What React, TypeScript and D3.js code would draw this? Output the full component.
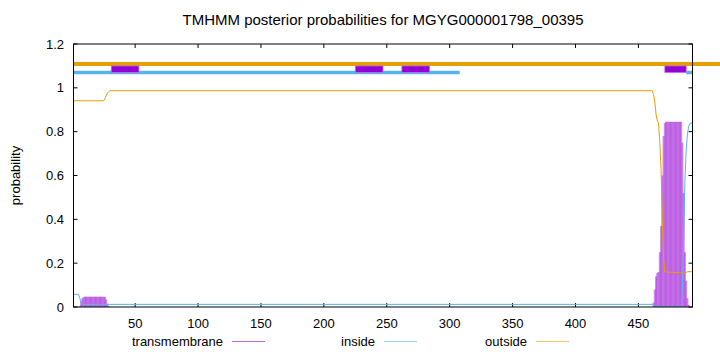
import React from "react";
import * as d3 from "d3";

const title = "TMHMM posterior probabilities for MGYG000001798_00395";
const xTicks = [50, 100, 150, 200, 250, 300, 350, 400, 450];
const yTicks = [0, 0.2, 0.4, 0.6, 0.8, 1, 1.2];

// posterior curves (breakpoints)
const outsidePos = [1, 25, 26, 27, 28, 29, 30, 461, 462, 463, 464, 465, 466, 467, 468, 469, 470, 471, 487, 488, 489, 493];
const outsideVal = [0.941, 0.941, 0.95, 0.965, 0.976, 0.983, 0.987, 0.987, 0.97, 0.94, 0.88, 0.85, 0.84, 0.75, 0.63, 0.4, 0.22, 0.16, 0.155, 0.158, 0.161, 0.161];

const insidePos = [1, 5, 6, 7, 8, 463, 464, 465, 484, 485, 486, 487, 488, 489, 490, 491, 493];
const insideVal = [0.058, 0.058, 0.04, 0.02, 0.012, 0.012, 0.006, 0.002, 0.003, 0.08, 0.32, 0.58, 0.72, 0.79, 0.825, 0.838, 0.84];

// transmembrane per-residue (non-zero residues)
const tmPos = [6, 7, 8, 9, 10, 11, 12, 13, 14, 15, 16, 17, 18, 19, 20, 21, 22, 23, 24, 25, 26, 27, 28, 29,
  462, 463, 464, 465, 466, 467, 468, 469, 470, 471, 472, 473, 474, 475, 476, 477, 478, 479, 480, 481, 482, 483, 484, 485, 486, 487, 488, 489, 490];
const tmVal = [0.005, 0.025, 0.04, 0.045, 0.047, 0.047, 0.047, 0.047, 0.047, 0.047, 0.047, 0.047, 0.047, 0.047, 0.047, 0.047, 0.047, 0.047, 0.047, 0.047, 0.046, 0.035, 0.015, 0.004,
  0.02, 0.08, 0.14, 0.155, 0.16, 0.25, 0.37, 0.6, 0.78, 0.84, 0.845, 0.845, 0.845, 0.845, 0.845, 0.845, 0.845, 0.845, 0.845, 0.845, 0.845, 0.845, 0.845, 0.75, 0.52, 0.25, 0.12, 0.04, 0.01];

// topology bars at top
const outsideBar = [[1, 515]];
const insideBars = [[1, 308], [488, 493]];
const tmBoxes = [[31, 53], [225, 247], [262, 284], [471, 488]];
const barLevels = { outside: 1.109, inside: 1.07, tmLow: 1.07, tmHigh: 1.1 };

const legendItems = ["transmembrane", "inside", "outside"];

const PURPLE = "#9400d3";
const BLUE = "#56b4e9";
const ORANGE = "#e69f00";
const FONT = "'Liberation Sans', Arial, sans-serif";

export default function App() {
  const W = 720, H = 352;
  const x = d3.scaleLinear().domain([1, 493]).range([73.5, 692.5]);
  const y = d3.scaleLinear().domain([0, 1.2]).range([307, 44]);
  const line = d3.line<[number, number]>().x(d => x(d[0])).y(d => y(d[1]));
  const outsideLine = line(outsidePos.map((p, i) => [p, outsideVal[i]]));
  const insideLine = line(insidePos.map((p, i) => [p, insideVal[i]]));
  const [x0, x1] = x.range();
  const [yb, yt] = y.range();
  const legendX = [223, 375, 527];

  return (
    <svg width={W} height={H} style={{ position: "absolute", left: 0, top: 0 }} fontFamily={FONT}>
      <rect width={W} height={H} fill="#fff" />
      <text x={383} y={25} textAnchor="middle" fontSize={15}>{title}</text>
      {/* ticks */}
      {xTicks.map(t => (
        <g key={"x" + t}>
          <line x1={x(t)} x2={x(t)} y1={yb} y2={yb - 4} stroke="#000" strokeWidth={1} />
          <line x1={x(t)} x2={x(t)} y1={yt} y2={yt + 4} stroke="#000" strokeWidth={1} />
          <text x={x(t)} y={328} textAnchor="middle" fontSize={13}>{t}</text>
        </g>
      ))}
      {yTicks.map(t => (
        <g key={"y" + t}>
          <line x1={x0} x2={x0 + 4} y1={y(t)} y2={y(t)} stroke="#000" strokeWidth={1} />
          <line x1={x1} x2={x1 - 4} y1={y(t)} y2={y(t)} stroke="#000" strokeWidth={1} />
          <text x={64} y={y(t) + 4.5} textAnchor="end" fontSize={13}>{String(t)}</text>
        </g>
      ))}
      <text transform={`translate(20,${(yb + yt) / 2}) rotate(-90)`} textAnchor="middle" fontSize={13}>probability</text>

      {/* transmembrane impulses */}
      {tmPos.map((p, i) => (
        <line key={"tm" + p} x1={x(p)} x2={x(p)} y1={y(0)} y2={y(tmVal[i])} stroke={PURPLE} strokeWidth={2} strokeOpacity={0.45} />
      ))}
      <path d={insideLine || ""} fill="none" stroke={BLUE} strokeWidth={1} />
      <path d={outsideLine || ""} fill="none" stroke={ORANGE} strokeWidth={1} />

      {/* top bars */}
      {outsideBar.map(([a, b], i) => (
        <line key={"ob" + i} x1={x(a)} x2={x(b)} y1={y(barLevels.outside)} y2={y(barLevels.outside)} stroke={ORANGE} strokeWidth={4} />
      ))}
      {insideBars.map(([a, b], i) => (
        <line key={"ib" + i} x1={x(a)} x2={x(b)} y1={y(barLevels.inside)} y2={y(barLevels.inside)} stroke={BLUE} strokeWidth={3.5} />
      ))}
      {tmBoxes.map(([a, b], i) => (
        <rect key={"tb" + i} x={x(a)} y={y(barLevels.tmHigh)} width={x(b) - x(a)} height={y(barLevels.tmLow) - y(barLevels.tmHigh)} fill={PURPLE} stroke="#c070e8" strokeWidth={0.8} />
      ))}

      {/* border */}
      <rect x={x0} y={yt} width={x1 - x0} height={yb - yt} fill="none" stroke="#000" strokeWidth={1} />

      {/* legend */}
      {legendItems.map((name, i) => (
        <g key={name}>
          <text x={legendX[i]} y={346} textAnchor="end" fontSize={13}>{name}</text>
          <line x1={legendX[i] + 9} x2={legendX[i] + 42} y1={341.5} y2={341.5} stroke={[PURPLE, BLUE, ORANGE][i]} strokeWidth={1} strokeOpacity={0.6} />
        </g>
      ))}
    </svg>
  );
}
